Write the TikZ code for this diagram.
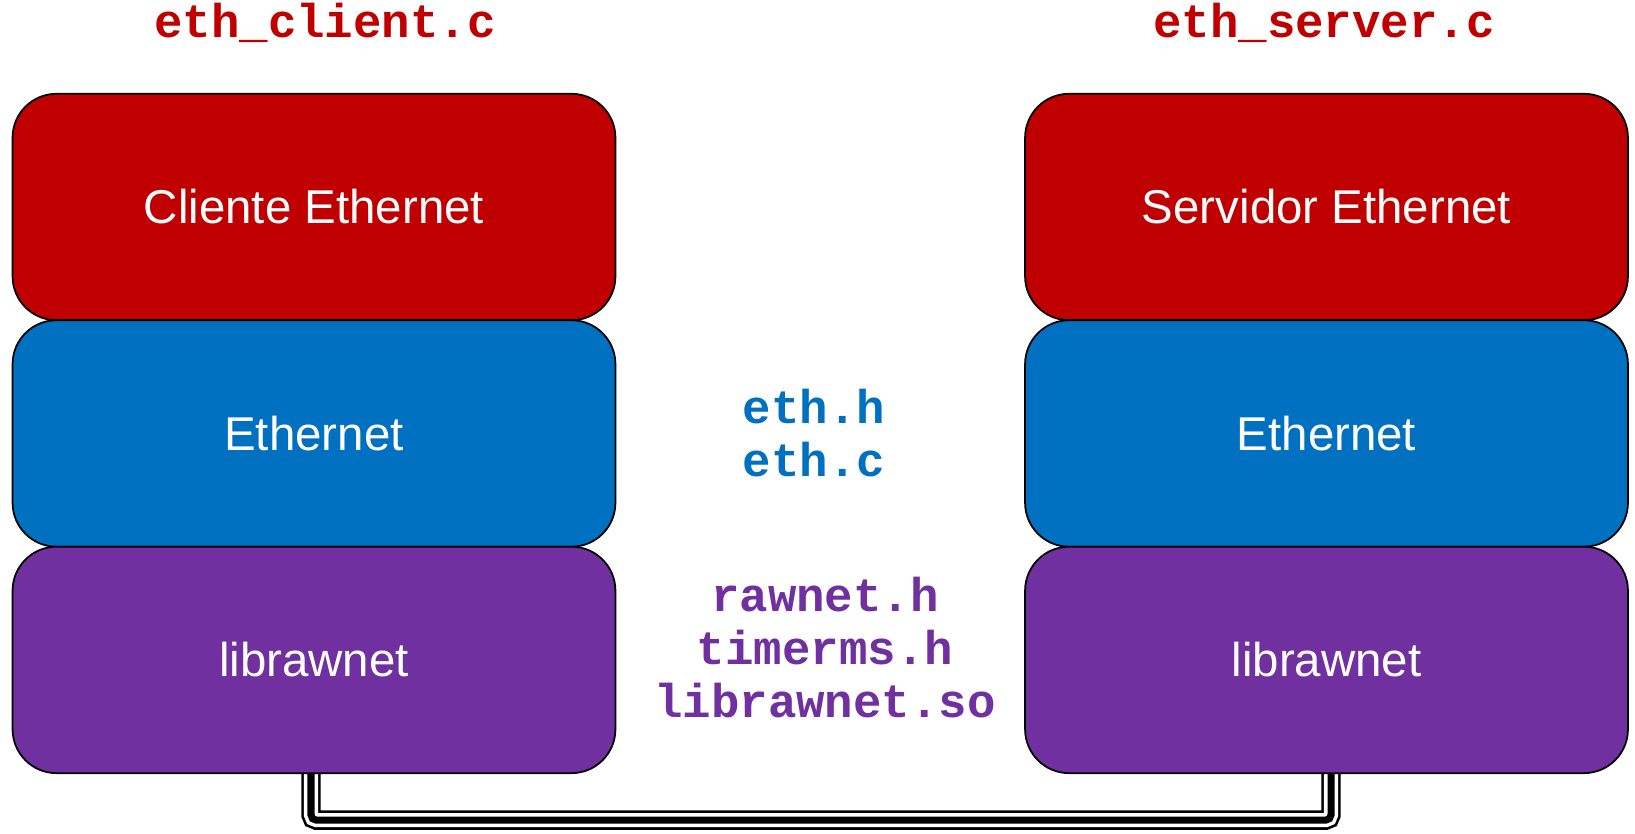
\documentclass[tikz,border=0pt]{standalone}
\usepackage{fontspec}
\setmainfont{Liberation Sans}
\newfontfamily\codefont{Liberation Mono}
\usepackage{xcolor}
\definecolor{layerRed}{RGB}{192, 0, 0}
\definecolor{layerBlue}{RGB}{0, 112, 192}
\definecolor{layerPurple}{RGB}{112, 48, 160}
\usetikzlibrary{positioning, backgrounds}

\begin{document}
\begin{tikzpicture}[
    x=0.02cm, y=-0.02cm,
    every node/.style={font=\fontsize{27}{30}\selectfont},
    layer/.style={
        rectangle, rounded corners=0.88cm, draw=black, line width=1pt,
        text=white, minimum width=12.06cm, minimum height=4.53cm,
        inner sep=0pt, outer sep=0pt
    },
    file/.style={font=\codefont\bfseries\fontsize{27}{30}\selectfont, align=center, anchor=base},
    cable/.style={rounded corners=3pt}
]
\useasboundingbox (0,0) rectangle (1635,833);

%% ---- Client stack ----
\node[layer, fill=layerRed]    (cliente) at (314,207) {Cliente Ethernet};
\node[layer, fill=layerBlue,   below=0pt of cliente] (ethA) {Ethernet};
\node[layer, fill=layerPurple, below=0pt of ethA]    (rawA) {librawnet};

%% ---- Server stack ----
\node[layer, fill=layerRed]    (servidor) at (1326.5,207) {Servidor Ethernet};
\node[layer, fill=layerBlue,   below=0pt of servidor] (ethB) {Ethernet};
\node[layer, fill=layerPurple, below=0pt of ethB]     (rawB) {librawnet};

%% ---- File names (base = last line) ----
\node[file, text=layerRed]    (clientfile) at (325,37)   {eth\_client.c};
\node[file, text=layerRed]    (serverfile) at (1324,37)  {eth\_server.c};
\node[file, text=layerBlue]   (ethfiles)   at (814,476)  {eth.h\\eth.c};
\node[file, text=layerPurple] (rawfiles)   at (825,717)  {rawnet.h\\timerms.h\\librawnet.so};

%% ---- Cable ----
\begin{scope}[on background layer]
\draw[cable, line width=11pt]       ([xshift=-0.06cm]rawA.south) -- ++(0,47) -| ([xshift=0.09cm]rawB.south);
\draw[cable, line width=8pt, white] ([xshift=-0.06cm]rawA.south) -- ++(0,47) -| ([xshift=0.09cm]rawB.south);
\draw[cable, line width=4pt]        ([xshift=-0.06cm]rawA.south) -- ++(0,47) -| ([xshift=0.09cm]rawB.south);
\end{scope}

\end{tikzpicture}
\end{document}
